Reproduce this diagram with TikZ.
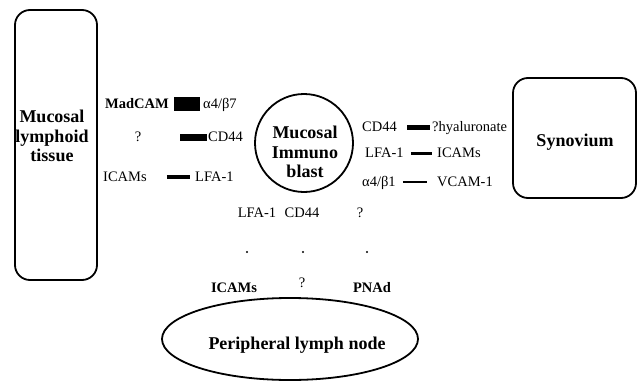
\documentclass[tikz,border=0pt]{standalone}
\usepackage{fontspec}
\setmainfont{Liberation Serif}
\usetikzlibrary{shapes.geometric}
\begin{document}
\begin{tikzpicture}[x=1pt,y=-1pt,
  outline/.style={draw, line width=1.8pt},
  lab/.style={inner sep=0pt, text height=9.5pt, text depth=0pt, font=\fontsize{14.5}{16}\selectfont},
  labb/.style={lab, font=\fontsize{14.5}{16}\selectfont\bfseries},
  big/.style={inner sep=0pt, font=\fontsize{18}{19.5}\selectfont\bfseries, align=center},
  bar/.style={line width=#1},
  dotmark/.style={circle, fill, inner sep=0pt, minimum size=2.2pt}]
\useasboundingbox (0,0) rectangle (637,383);

% main compartments
\node[outline, rounded corners=15pt, minimum width=82pt, minimum height=270pt, inner sep=0pt] (mlt) at (56,145) {};
\node[big] (mlttext) at (52,136) {Mucosal\\lymphoid\\tissue};

\node[outline, rounded corners=15pt, minimum width=123pt, minimum height=120pt, inner sep=0pt] (syn) at (574.5,138) {};
\node[big] (syntext) at (575,142) {Synovium};

\node[outline, circle, minimum size=98pt, inner sep=0pt] (blast) at (304,143) {};
\node[big] (blasttext) at (305,152) {Mucosal\\Immuno\\blast};

\node[outline, ellipse, minimum width=256pt, minimum height=82pt, inner sep=0pt] (pln) at (290,339) {};
\node[big] (plntext) at (297,345) {Peripheral lymph node};

% left pairs
\node[labb, anchor=west] (madcam) at (105,104) {MadCAM};
\node[lab, anchor=west] (a4b7) at (203,104) {α4/β7};
\draw[bar=14pt, shorten <=5pt, shorten >=3pt] (madcam.east) -- (madcam.east -| a4b7.west);

\node[lab] (q1) at (138,137) {?};
\node[lab, anchor=west] (cd44l) at (208,137) {CD44};
\draw[bar=7pt, shorten <=39pt, shorten >=1pt] (q1.east) -- (q1.east -| cd44l.west);

\node[lab, anchor=west] (icamsl) at (103,177) {ICAMs};
\node[lab, anchor=west] (lfa1l) at (195,177) {LFA-1};
\draw[bar=4pt, shorten <=20pt, shorten >=5pt] (icamsl.east) -- (icamsl.east -| lfa1l.west);

% right pairs
\node[lab, anchor=west] (cd44r) at (362,127) {CD44};
\node[lab, anchor=west] (hyal) at (432,127) {?hyaluronate};
\draw[bar=5pt, shorten <=10pt, shorten >=2pt] (cd44r.east) -- (cd44r.east -| hyal.west);

\node[lab, anchor=west] (lfa1r) at (365,153) {LFA-1};
\node[lab, anchor=west] (icamsr) at (437,153) {ICAMs};
\draw[bar=3pt, shorten <=7pt, shorten >=5pt] (lfa1r.east) -- (lfa1r.east -| icamsr.west);

\node[lab, anchor=west] (a4b1) at (362,182) {α4/β1};
\node[lab, anchor=west] (vcam) at (437,182) {VCAM-1};
\draw[bar=2pt, shorten <=7pt, shorten >=10pt] (a4b1.east) -- (a4b1.east -| vcam.west);

% bottom pairs
\node[lab] (lfa1b) at (257,213) {LFA-1};
\node[lab] (cd44b) at (302,213) {CD44};
\node[lab] (qb1) at (360,213) {?};
\node[dotmark] (d1) at (247,252) {};
\node[dotmark] (d2) at (303,252) {};
\node[dotmark] (d3) at (367,252) {};
\node[labb] (icamsb) at (234,288) {ICAMs};
\node[lab] (qb2) at (302,283) {?};
\node[labb] (pnad) at (372,288) {PNAd};
\end{tikzpicture}
\end{document}
